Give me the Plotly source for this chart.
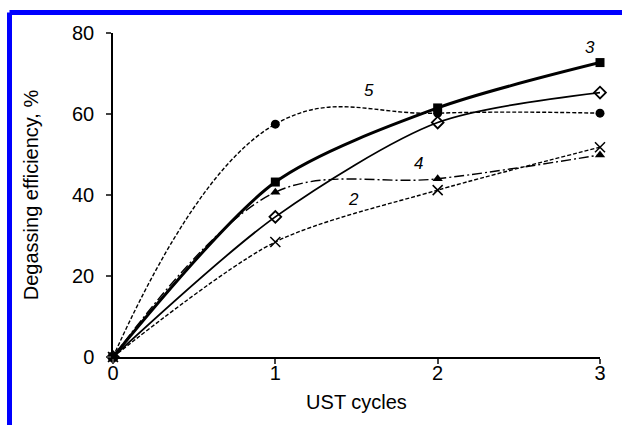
import plotly.graph_objects as go

cycles = [0, 1, 2, 3]
s1 = [0, 34.6, 57.9, 65.3]   # open diamonds, thin solid
s2 = [0, 28.4, 41.2, 51.8]   # crosses, dashed
s3 = [0, 43.2, 61.5, 72.7]   # filled squares, thick solid
s4 = [0, 40.7, 44.0, 49.9]   # triangles, dash-dot
s5 = [0, 57.5, 60.2, 60.2]   # circles, dashed

labels = ["1", "2", "3", "4", "5"]
label_x = [3.08, 1.48, 2.94, 1.88, 1.58]
label_y = [65.7, 38.8, 76.5, 47.9, 65.9]

FONT = "Liberation Sans"

fig = go.Figure()

def add(y, symbol, dash, width, size, mline=0, mcolor="black", smooth=0.8):
    fig.add_trace(go.Scatter(
        x=cycles, y=y, mode="lines+markers",
        line=dict(color="black", width=width, dash=dash, shape="spline", smoothing=smooth),
        marker=dict(symbol=symbol, size=size, color=mcolor,
                    line=dict(color="black", width=mline)),
        cliponaxis=False, showlegend=False))

add(s5, "circle", "4px,2px", 1.4, 9, smooth=1.2)
add(s2, "x-thin", "4px,2px", 1.4, 10, mline=1.5)
add(s4, "triangle-up", "10px,3px,2px,3px", 1.4, 9, smooth=1.0)
add(s1, "diamond-open", "solid", 1.8, 9, mline=1.8)
add(s3, "square", "solid", 3.0, 9)

for t, lx, ly in zip(labels, label_x, label_y):
    fig.add_annotation(x=lx, y=ly, text="<i>" + t + "</i>", showarrow=False,
                       font=dict(family=FONT, size=17, color="black"))

L, R, T, B = 113, 22, 33, 68
W, H = 622, 425
pw, ph = W - L - R, H - T - B

def px(xp):
    return (xp - L) / pw

def py(yp):
    return (H - B - yp) / ph

fig.add_shape(type="line", xref="paper", yref="paper",
              x0=px(9.5), x1=px(640), y0=py(12.5), y1=py(12.5),
              line=dict(color="#0000FF", width=5))
fig.add_shape(type="line", xref="paper", yref="paper",
              x0=px(9.5), x1=px(9.5), y0=py(12.5), y1=py(440),
              line=dict(color="#0000FF", width=5))

fig.update_layout(
    width=W, height=H,
    margin=dict(l=L, r=R, t=T, b=B),
    plot_bgcolor="white", paper_bgcolor="white",
    font=dict(family=FONT, size=20, color="black"),
    xaxis=dict(range=[0, 3], tickvals=[0, 1, 2, 3], ticks="outside", ticklen=5,
               tickwidth=1.5, showline=True, linecolor="black", linewidth=1.5,
               showgrid=False, zeroline=False, ticklabelstandoff=-8,
               title=dict(text="UST cycles", font=dict(size=20), standoff=12),
               tickfont=dict(size=20)),
    yaxis=dict(range=[0, 80], tickvals=[0, 20, 40, 60, 80], ticks="outside", ticklen=5,
               tickwidth=1.5, showline=True, linecolor="black", linewidth=1.5,
               showgrid=False, zeroline=False, ticklabelstandoff=8,
               title=dict(text="Degassing efficiency, %", font=dict(size=20), standoff=28),
               tickfont=dict(size=20)),
)

fig.write_html("out.html")
